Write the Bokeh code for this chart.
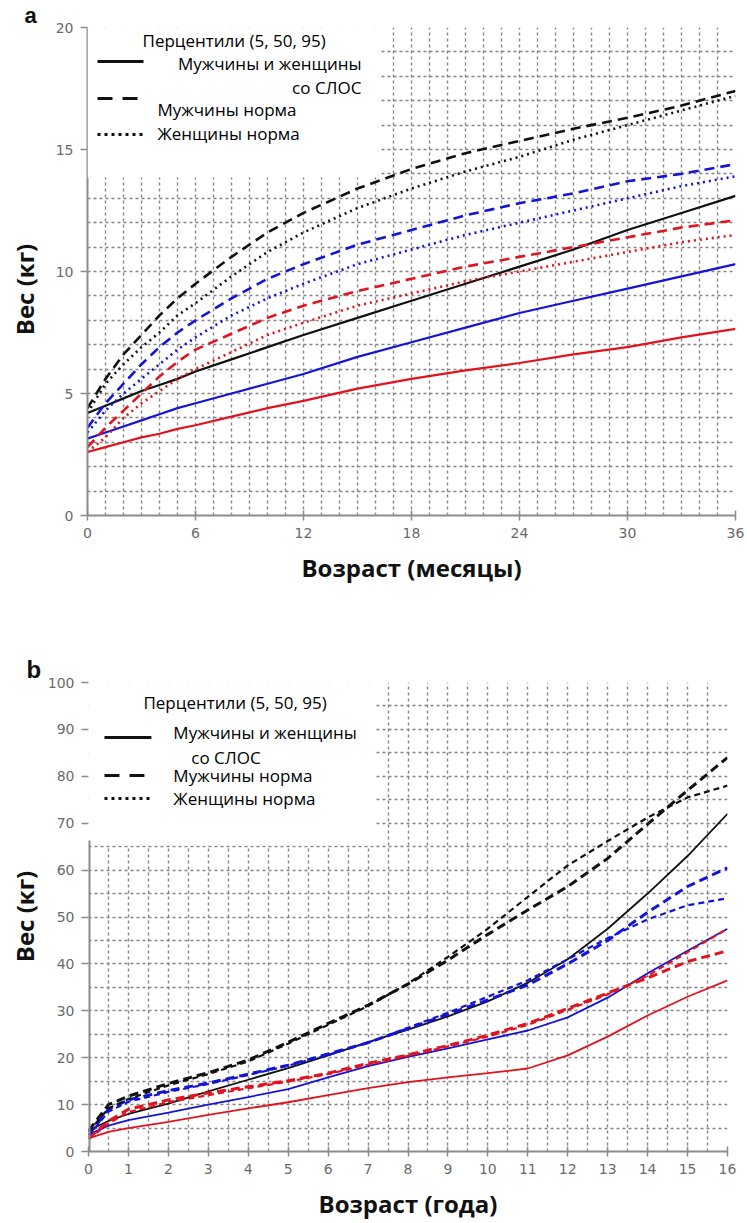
import math
from bokeh.plotting import figure
from bokeh.layouts import column, row
from bokeh.models import Range1d, SingleIntervalTicker, BoxAnnotation, Label, Arrow, Title
from bokeh.embed import file_html
from bokeh.resources import INLINE

# ---------------- Panel a data (months) ----------------
months = [0, 1, 2, 3, 4, 5, 6, 8, 10, 12, 15, 18, 21, 24, 27, 30, 33, 36]
a_slos_p95 = [4.2, 4.5, 4.8, 5.1, 5.35, 5.6, 5.9, 6.4, 6.9, 7.4, 8.1, 8.8, 9.5, 10.2, 10.9, 11.7, 12.4, 13.1]
a_slos_p50 = [3.15, 3.4, 3.65, 3.9, 4.15, 4.4, 4.6, 5.0, 5.4, 5.8, 6.5, 7.1, 7.7, 8.3, 8.8, 9.3, 9.8, 10.3]
a_slos_p5 = [2.6, 2.8, 3.0, 3.2, 3.35, 3.55, 3.7, 4.05, 4.4, 4.7, 5.2, 5.6, 5.95, 6.25, 6.6, 6.9, 7.3, 7.65]
a_boys_p95 = [4.4, 5.6, 6.6, 7.4, 8.2, 8.9, 9.5, 10.6, 11.6, 12.4, 13.4, 14.2, 14.85, 15.35, 15.85, 16.3, 16.8, 17.4]
a_girls_p95 = [4.2, 5.4, 6.2, 6.9, 7.5, 8.2, 8.7, 9.8, 10.8, 11.6, 12.6, 13.4, 14.1, 14.7, 15.4, 16.0, 16.6, 17.2]
a_boys_p50 = [3.6, 4.6, 5.4, 6.2, 6.9, 7.5, 8.0, 8.9, 9.7, 10.3, 11.1, 11.7, 12.3, 12.8, 13.2, 13.7, 14.0, 14.4]
a_girls_p50 = [3.4, 4.3, 5.0, 5.6, 6.2, 6.8, 7.3, 8.2, 8.9, 9.5, 10.3, 10.9, 11.5, 12.0, 12.5, 13.0, 13.5, 13.9]
a_boys_p5 = [2.8, 3.6, 4.3, 5.0, 5.7, 6.3, 6.8, 7.45, 8.1, 8.6, 9.2, 9.7, 10.2, 10.6, 11.0, 11.4, 11.8, 12.1]
a_girls_p5 = [2.6, 3.2, 4.0, 4.6, 5.1, 5.6, 6.0, 6.7, 7.4, 7.9, 8.6, 9.1, 9.6, 10.0, 10.4, 10.8, 11.2, 11.5]
a_xticks = [0, 6, 12, 18, 24, 30, 36]
a_yticks = [0, 5, 10, 15, 20]

# ---------------- Panel b data (years) ----------------
years = [0, 0.5, 1, 2, 3, 4, 5, 6, 7, 8, 9, 10, 11, 12, 13, 14, 15, 16]
b_slos_p95 = [4.5, 6.5, 8.0, 10.2, 12.8, 15.3, 17.8, 20.5, 23.3, 26.0, 28.8, 32.0, 36.0, 41.0, 47.5, 55.0, 63.0, 72.0]
b_slos_p50 = [3.6, 5.5, 6.7, 8.3, 10.0, 11.6, 13.3, 15.8, 18.2, 20.2, 22.0, 23.9, 25.8, 28.6, 32.8, 38.0, 42.8, 47.5]
b_slos_p5 = [2.8, 4.2, 5.0, 6.3, 7.8, 9.2, 10.5, 12.0, 13.5, 14.8, 15.8, 16.7, 17.7, 20.5, 24.5, 29.0, 33.0, 36.5]
b_boys_p95 = [4.4, 10.0, 11.8, 14.5, 16.8, 19.5, 23.3, 27.3, 31.2, 35.7, 40.8, 46.3, 51.5, 56.5, 62.5, 69.8, 77.0, 84.0]
b_girls_p95 = [4.2, 9.2, 11.2, 14.1, 16.5, 19.2, 23.0, 27.0, 31.0, 35.8, 41.5, 47.5, 54.3, 61.0, 66.2, 71.2, 75.5, 78.0]
b_boys_p50 = [3.5, 9.0, 11.0, 13.0, 14.6, 16.5, 18.4, 20.8, 23.2, 26.2, 29.3, 32.3, 35.5, 40.0, 45.0, 51.0, 56.5, 60.5]
b_girls_p50 = [3.3, 8.5, 10.6, 12.7, 14.4, 16.3, 18.3, 20.6, 23.2, 26.4, 29.6, 33.0, 36.5, 41.0, 45.5, 49.5, 52.5, 54.0]
b_boys_p5 = [2.8, 6.5, 9.0, 11.0, 12.5, 13.8, 15.1, 16.7, 18.8, 20.6, 22.6, 24.8, 27.3, 30.5, 33.8, 37.0, 40.5, 42.8]
b_girls_p5 = [2.6, 6.0, 8.4, 10.5, 12.0, 13.5, 14.9, 16.5, 18.5, 20.4, 22.4, 24.5, 27.0, 30.2, 33.5, 37.5, 42.5, 47.5]
b_xticks = list(range(0, 17))
b_yticks = list(range(0, 101, 10))

legend_title = "Перцентили (5, 50, 95)"
legend_slos = ["Мужчины и женщины", "со СЛОС"]
legend_boys = "Мужчины норма"
legend_girls = "Женщины норма"
y_label = "Вес (кг)"

BLACK = "#111111"
BLUE = "#1414d8"
RED = "#e0141e"
GRID = "#858585"
AXIS = "#8c8c8c"
TICKTXT = "#6a6a6a"
TXT = "#111111"
LFONT = "Open Sans"
LSIZE = "17px"
SIDE_W = 44          # width of the left strip that carries panel letter + y label
W = 747


def style_axes(p, xticks, yticks, xminor, yminor):
    p.xaxis.ticker = xticks
    p.yaxis.ticker = yticks
    p.xaxis.ticker.num_minor_ticks = xminor
    p.yaxis.ticker.num_minor_ticks = yminor
    for ax in (p.xaxis[0], p.yaxis[0]):
        ax.axis_line_color = AXIS
        ax.axis_line_width = 2
        ax.major_tick_line_color = AXIS
        ax.minor_tick_line_color = AXIS
        ax.major_tick_line_width = 1.5
        ax.minor_tick_line_width = 1.2
        ax.major_label_text_font = "DejaVu Sans"
        ax.major_label_text_font_size = "14px"
        ax.major_label_text_color = TICKTXT
    p.xaxis.major_tick_in = 5
    p.xaxis.major_tick_out = 5
    p.xaxis.minor_tick_in = 3
    p.xaxis.minor_tick_out = 3
    p.xaxis.major_label_standoff = 7
    p.yaxis.major_tick_in = 0
    p.yaxis.major_tick_out = 7
    p.yaxis.minor_tick_in = 0
    p.yaxis.minor_tick_out = 4
    p.yaxis.major_label_standoff = 7
    p.xaxis.axis_label_text_font = LFONT
    p.xaxis.axis_label_text_font_style = "bold"
    p.xaxis.axis_label_text_font_size = "24px"
    p.xaxis.axis_label_text_color = TXT
    p.xaxis.axis_label_standoff = 10


def style_grid(p, xint, yint):
    p.xgrid.ticker = SingleIntervalTicker(interval=xint)
    p.ygrid.ticker = SingleIntervalTicker(interval=yint)
    for g in (p.xgrid[0], p.ygrid[0]):
        g.grid_line_color = GRID
        g.grid_line_width = 1.4
        g.grid_line_dash = "3 3"


def add_text(p, x, y, text, align="left"):
    p.add_layout(Label(x=x, y=y, text=text, text_font=LFONT, text_font_size=LSIZE,
                       text_color="#000000", text_align=align, text_baseline="middle"))


def add_key(p, x0, x1, y, dash):
    p.add_layout(Arrow(end=None, x_start=x0, y_start=y, x_end=x1, y_end=y,
                       line_color=BLACK, line_width=3, line_dash=dash))


def side_strip(height, letter, letter_size, frame_top, frame_bottom, ylab_py, offset):
    """Left strip holding the panel letter (as a title) and the y label.
    Its frame is aligned with the neighbouring chart frame (page pixels frame_top..frame_bottom)."""
    fh = frame_bottom - frame_top
    s = figure(width=SIDE_W, height=height, output_backend="svg", toolbar_location=None,
               title=None, x_range=Range1d(0, SIDE_W), y_range=Range1d(0, fh),
               x_axis_location=None, y_axis_location=None,
               min_border_left=0, min_border_right=0, min_border_top=0, min_border_bottom=0)
    s.outline_line_color = None
    s.xgrid.visible = False
    s.ygrid.visible = False
    s.add_layout(Title(text=letter, align="left", offset=offset, standoff=0,
                       vertical_align="bottom", text_font="Liberation Sans",
                       text_font_size=letter_size, text_font_style="bold",
                       text_color=TXT), "above")
    s.add_layout(Label(x=24, y=frame_bottom - ylab_py, text=y_label, text_font=LFONT,
                       text_font_size="24px", text_font_style="bold", text_color=TXT,
                       text_align="center", text_baseline="middle", angle=math.pi / 2))
    return s


# ================= Panel a =================
HA = 610
pa = figure(width=W - SIDE_W, height=HA, output_backend="svg", toolbar_location=None, title=None,
            x_range=Range1d(0, 36), y_range=Range1d(0, 20),
            min_border_left=87 - SIDE_W, min_border_right=12, min_border_top=27, min_border_bottom=95)
pa.outline_line_color = None
style_axes(pa, a_xticks, a_yticks, 6, 5)
style_grid(pa, 1, 1)
pa.xaxis.axis_label = "Возраст (месяцы)"


def xa(px):
    return (px - 87) * 36 / 648


def ya(py):
    return (515 - py) * 20 / 488


pa.add_layout(BoxAnnotation(left=0, right=xa(378), bottom=ya(177), top=20,
                            fill_color="white", fill_alpha=1, line_color=None))

for ys, c in ((a_slos_p95, BLACK), (a_slos_p50, BLUE), (a_slos_p5, RED)):
    pa.line(months, ys, line_color=c, line_width=2.2)
for ys, c in ((a_boys_p95, BLACK), (a_boys_p50, BLUE), (a_boys_p5, RED)):
    pa.line(months, ys, line_color=c, line_width=2.6, line_dash="10 6")
for ys, c in ((a_girls_p95, BLACK), (a_girls_p50, BLUE), (a_girls_p5, RED)):
    pa.line(months, ys, line_color=c, line_width=2.6, line_dash="2 4")

add_text(pa, xa(142), ya(40), legend_title)
add_key(pa, xa(97), xa(143), ya(61), "solid")
add_text(pa, xa(361), ya(63), legend_slos[0], align="right")
add_text(pa, xa(361), ya(87), legend_slos[1], align="right")
add_key(pa, xa(97), xa(137), ya(98), "15 10")
add_text(pa, xa(157), ya(109), legend_boys)
add_key(pa, xa(97), xa(143), ya(134), "3 4")
add_text(pa, xa(157), ya(133), legend_girls)

sa = side_strip(HA, "a", "22px", 27, 515, 289, 24)

# ================= Panel b =================
HB = 613
pb = figure(width=W - SIDE_W, height=HB, output_backend="svg", toolbar_location=None, title=None,
            x_range=Range1d(0, 16), y_range=Range1d(0, 100),
            min_border_left=87 - SIDE_W, min_border_right=20, min_border_top=72, min_border_bottom=72)
pb.outline_line_color = None
style_axes(pb, b_xticks, b_yticks, 2, 2)
style_grid(pb, 0.5, 5)
pb.xaxis.axis_label = "Возраст (года)"
pb.yaxis.axis_line_color = None


def xb(px):
    return (px - 87) * 16 / 640


def yb(py):
    return (1151 - py) * 100 / 469


pb.add_layout(BoxAnnotation(left=0, right=xb(373), bottom=yb(845), top=100,
                            fill_color="white", fill_alpha=1, line_color=None))
pb.add_layout(Arrow(end=None, x_start=0, y_start=0, x_end=0, y_end=yb(840),
                    line_color=AXIS, line_width=4))

for ys, c in ((b_slos_p95, BLACK), (b_slos_p50, BLUE), (b_slos_p5, RED)):
    pb.line(years, ys, line_color=c, line_width=1.8)
for ys, c in ((b_boys_p95, BLACK), (b_boys_p50, BLUE), (b_boys_p5, RED)):
    pb.line(years, ys, line_color=c, line_width=3.0, line_dash="9 5")
for ys, c in ((b_girls_p95, BLACK), (b_girls_p50, BLUE), (b_girls_p5, RED)):
    pb.line(years, ys, line_color=c, line_width=2.2, line_dash="6 4")

add_text(pb, xb(142), yb(702), legend_title)
add_key(pb, xb(103), xb(150), yb(737), "solid")
add_text(pb, xb(172), yb(732), legend_slos[0])
add_text(pb, xb(190), yb(757), legend_slos[1])
add_key(pb, xb(103), xb(143), yb(775), "15 10")
add_text(pb, xb(172), yb(775), legend_boys)
add_key(pb, xb(103), xb(150), yb(798), "3 4")
add_text(pb, xb(172), yb(798), legend_girls)

sb = side_strip(HB, "b", "24px", 682, 1151, 916, 26)

layout = column(row(sa, pa), row(sb, pb))
open("out.html", "w").write(file_html(layout, INLINE))
